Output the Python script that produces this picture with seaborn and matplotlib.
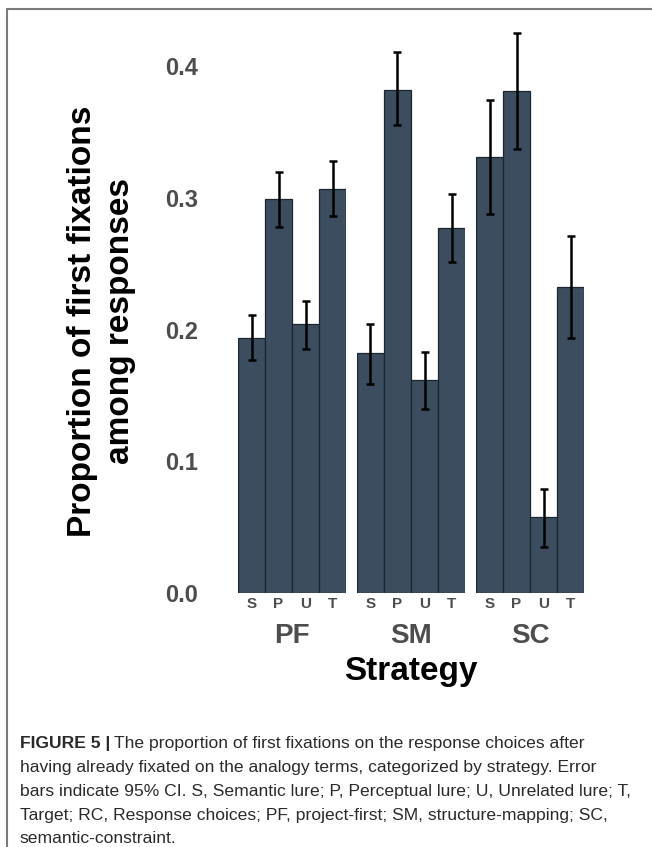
import numpy as np
import pandas as pd
import seaborn as sns
import matplotlib.pyplot as plt
from matplotlib.lines import Line2D

# Valores
categorias = ["S", "P", "U", "T"]
estrategias = ["PF", "SM", "SC"]

media_PF = [0.194, 0.299, 0.204, 0.307]
bajo_PF = [0.177, 0.278, 0.185, 0.286]
alto_PF = [0.211, 0.320, 0.222, 0.328]

media_SM = [0.182, 0.382, 0.162, 0.277]
bajo_SM = [0.159, 0.355, 0.140, 0.251]
alto_SM = [0.204, 0.411, 0.183, 0.303]

media_SC = [0.331, 0.381, 0.058, 0.232]
bajo_SC = [0.288, 0.337, 0.035, 0.194]
alto_SC = [0.374, 0.425, 0.079, 0.271]

yticks = [0.0, 0.1, 0.2, 0.3, 0.4]

caption_lines = [
    "The proportion of first fixations on the response choices after",
    "having already fixated on the analogy terms, categorized by strategy. Error",
    "bars indicate 95% CI. S, Semantic lure; P, Perceptual lure; U, Unrelated lure; T,",
    "Target; RC, Response choices; PF, project-first; SM, structure-mapping; SC,",
    "semantic-constraint.",
]

sns.set_style("white")
plt.rcParams["font.family"] = ["Liberation Sans", "DejaVu Sans"]

W, H = 652, 847
fig = plt.figure(figsize=(W / 100, H / 100), dpi=100)

bar_color = "#3c4d60"
edge_color = "#1c2630"
gris = "#4d4d4d"

datos = {
    "PF": (media_PF, bajo_PF, alto_PF),
    "SM": (media_SM, bajo_SM, alto_SM),
    "SC": (media_SC, bajo_SC, alto_SC),
}

lefts = [238, 357, 476]
ax_w = 108
y0 = 593
ymax = 0.45
ax_h = ymax * 1317

for i, est in enumerate(estrategias):
    media, bajo, alto = datos[est]
    df = pd.DataFrame({"Respuesta": categorias, "Proporcion": media})
    ax = fig.add_axes([lefts[i] / W, (H - y0) / H, ax_w / W, ax_h / H])
    sns.barplot(data=df, x="Respuesta", y="Proporcion", ax=ax, color=bar_color,
                saturation=1, width=1.0, edgecolor=edge_color, linewidth=0.9,
                errorbar=None)
    m = np.array(media)
    yerr = [m - np.array(bajo), np.array(alto) - m]
    ax.errorbar(np.arange(len(categorias)), m, yerr=yerr, fmt="none",
                ecolor="black", elinewidth=1.8, capsize=3, capthick=1.8)
    ax.set_xlim(-0.5, 3.5)
    ax.set_ylim(0, ymax)
    ax.set_xlabel("")
    ax.set_ylabel("")
    ax.set_facecolor("none")
    sns.despine(ax=ax, left=True, bottom=True)
    ax.tick_params(axis="x", length=0, pad=3, labelsize=11, labelcolor=gris)
    for t in ax.get_xticklabels():
        t.set_fontweight("bold")
    if i == 0:
        ax.set_yticks(yticks)
        ax.set_yticklabels([f"{v:.1f}" for v in yticks], fontsize=17,
                           fontweight="bold", color=gris)
        ax.tick_params(axis="y", length=0, pad=29)
    else:
        ax.set_yticks([])
    # etiqueta de faceta abajo
    fig.text((lefts[i] + ax_w / 2) / W, (H - 636) / H, est, ha="center",
             va="center", fontsize=20, fontweight="bold", color=gris)

fig.text((238 + 584) / 2 / W, (H - 671) / H, "Strategy", ha="center",
         va="center", fontsize=24, fontweight="bold", color="black")
fig.text(101.5 / W, (H - 321) / H, "Proportion of first fixations\namong responses",
         rotation=90, ha="center", va="center", multialignment="center",
         fontsize=24, fontweight="bold", color="black", linespacing=1.25)

# Pie de figura
cap_color = "#2a2a2a"
cap_fs = 12.6
cap_x = 20
cap_ys = [743, 767, 791, 815, 838]
fig.canvas.draw()
rend = fig.canvas.get_renderer()
b = fig.text(cap_x / W, (H - cap_ys[0]) / H, "FIGURE 5 |", fontsize=cap_fs,
             fontweight="bold", color=cap_color, va="center", ha="left")
bb = b.get_window_extent(renderer=rend)
fig.text((bb.x1 + 4) / W, (H - cap_ys[0]) / H, caption_lines[0], fontsize=cap_fs,
         color=cap_color, va="center", ha="left")
for y, line in zip(cap_ys[1:], caption_lines[1:]):
    fig.text(cap_x / W, (H - y) / H, line, fontsize=cap_fs, color=cap_color,
             va="center", ha="left")

# Marco
fig.add_artist(Line2D([7 / W, 1], [1 - 9 / H, 1 - 9 / H], color="#7a7a7a",
                      lw=1.5, transform=fig.transFigure))
fig.add_artist(Line2D([7 / W, 7 / W], [0, 1 - 9 / H], color="#7a7a7a",
                      lw=1.5, transform=fig.transFigure))

fig.savefig("out.png", dpi=100)
